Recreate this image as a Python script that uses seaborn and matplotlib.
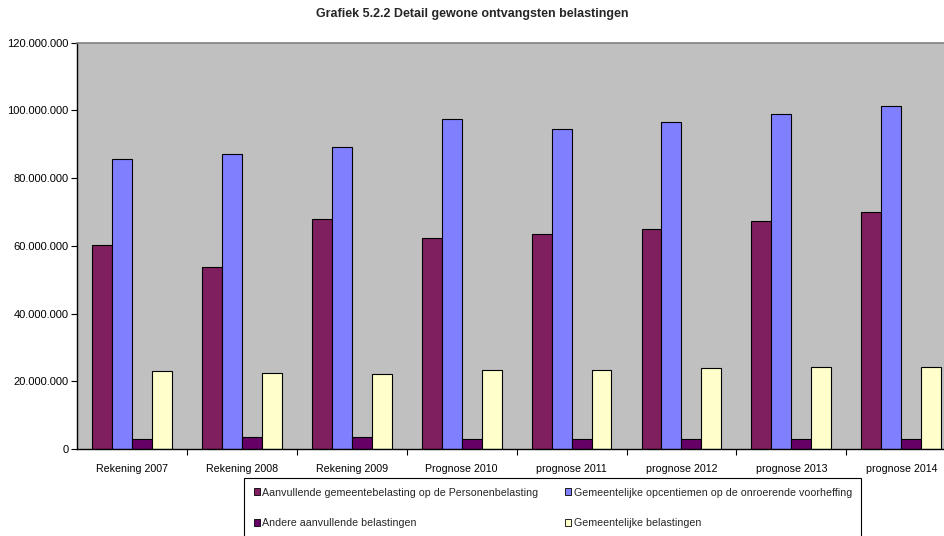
import numpy as np
import pandas as pd
import matplotlib
matplotlib.use("Agg")
import matplotlib.pyplot as plt
import seaborn as sns
from matplotlib.ticker import FuncFormatter, FixedLocator

# data (euro)
jaren = ['Rekening 2007', 'Rekening 2008', 'Rekening 2009', 'Prognose 2010',
         'prognose 2011', 'prognose 2012', 'prognose 2013', 'prognose 2014']
series_names = ['Aanvullende gemeentebelasting op de Personenbelasting',
                'Gemeentelijke opcentiemen op de onroerende voorheffing',
                'Andere aanvullende belastingen',
                'Gemeentelijke belastingen']
personenbelasting = [60.2e6, 53.8e6, 67.8e6, 62.4e6, 63.4e6, 65.0e6, 67.3e6, 69.9e6]
opcentiemen = [85.7e6, 87.2e6, 89.1e6, 97.6e6, 94.5e6, 96.5e6, 98.9e6, 101.3e6]
andere = [3.0e6, 3.4e6, 3.4e6, 3.1e6, 3.1e6, 3.1e6, 3.1e6, 3.1e6]
gemeentelijk = [23.1e6, 22.5e6, 22.2e6, 23.2e6, 23.4e6, 23.9e6, 24.1e6, 24.1e6]
colors = ['#7F1F5F', '#8080FF', '#660066', '#FFFFCC']

df = pd.DataFrame({
    'jaar': jaren * 4,
    'reeks': [s for s in series_names for _ in jaren],
    'waarde': personenbelasting + opcentiemen + andere + gemeentelijk,
})

sns.set_theme(style='white')
plt.rcParams['font.family'] = ['Liberation Sans', 'DejaVu Sans']

fig = plt.figure(figsize=(9.45, 5.36), dpi=100)
W, H = 945, 536
ax = fig.add_axes([77 / W, (H - 449) / H, (W - 77) / W, (449 - 42.7) / H])
ax.set_facecolor('#C0C0C0')

sns.barplot(data=df, x='jaar', y='waarde', hue='reeks', palette=colors,
            width=0.727, edgecolor='black', linewidth=0.8, saturation=1,
            legend=True, ax=ax)

ax.set_xlim(-0.5, -0.5 + (W - 77) / 109.9)
ax.set_ylim(0, 120e6)
ax.set_yticks(np.arange(0, 120e6 + 1, 20e6))
ax.yaxis.set_major_formatter(FuncFormatter(
    lambda v, p: '0' if v == 0 else f'{int(v):,}'.replace(',', '.')))
ax.tick_params(axis='y', left=True, length=4, width=0.8, color='black',
               labelsize=8, pad=2, labelcolor='black')
ax.tick_params(axis='x', which='major', bottom=False, labelsize=7.7, pad=5,
               labelcolor='black')
ax.xaxis.set_minor_locator(FixedLocator(np.arange(0.5, 8, 1)))
ax.tick_params(axis='x', which='minor', bottom=True, length=4, width=0.8,
               color='black')
ax.set_xlabel('')
ax.set_ylabel('')

for side in ['left', 'bottom']:
    ax.spines[side].set_color('black')
    ax.spines[side].set_linewidth(1.0)
ax.spines['top'].set_color('#808080')
ax.spines['top'].set_linewidth(1.2)
ax.spines['right'].set_visible(False)

fig.text(472 / W, 1 - 14 / H, 'Grafiek 5.2.2 Detail gewone ontvangsten belastingen',
         ha='center', va='center', fontsize=9, fontweight='bold')

# legend is filled row by row in the reference
handles, labels = ax.get_legend_handles_labels()
order = [0, 2, 1, 3]
ax.legend_.remove()
leg = fig.legend([handles[i] for i in order], [labels[i] for i in order],
                 ncol=2, loc='upper left',
                 bbox_to_anchor=(244 / W, 1 - 478 / H),
                 bbox_transform=fig.transFigure,
                 fontsize=7.7, frameon=True, fancybox=False,
                 edgecolor='black', framealpha=1, facecolor='white',
                 handlelength=0.6, handleheight=0.6, handletextpad=0.2,
                 labelspacing=1.9, columnspacing=2.5, borderpad=0.9,
                 borderaxespad=0)
leg.get_frame().set_linewidth(0.8)
for h in leg.legend_handles:
    h.set_edgecolor('black')
    h.set_linewidth(0.6)

fig.savefig('out.png', dpi=100)
